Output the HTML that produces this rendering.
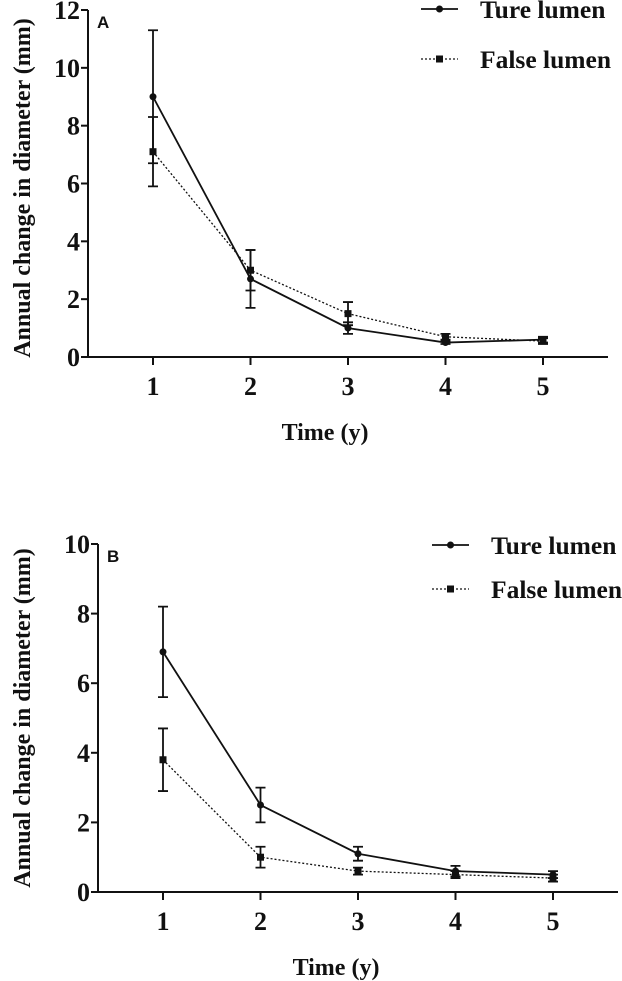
<!DOCTYPE html>
<html><head><meta charset="utf-8"><style>
html,body{margin:0;padding:0;background:#fff;}
svg{display:block;font-family:"Liberation Serif",serif;}
</style></head><body>
<svg id="svg" width="622" height="981" viewBox="0 0 622 981"></svg>
<script>
const categories=[1,2,3,4,5];
const aTrue=[9.0,2.7,1.0,0.5,0.6];
const aTrueErr=[2.3,1.0,0.2,0.05,0.1];
const aFalse=[7.1,3.0,1.5,0.7,0.55];
const aFalseErr=[1.2,0.7,0.4,0.1,0.1];
const bTrue=[6.9,2.5,1.1,0.6,0.5];
const bTrueErr=[1.3,0.5,0.2,0.15,0.1];
const bFalse=[3.8,1.0,0.6,0.5,0.4];
const bFalseErr=[0.9,0.3,0.1,0.1,0.1];
const aYTicks=[0,2,4,6,8,10,12];
const bYTicks=[0,2,4,6,8,10];
const legendLabels=["Ture lumen","False lumen"];

const NS="http://www.w3.org/2000/svg";
const svg=document.getElementById('svg');
function mk(tag,attrs,parent,text){const e=document.createElementNS(NS,tag);for(const k in attrs)e.setAttribute(k,attrs[k]);if(text!==undefined)e.textContent=text;(parent||svg).appendChild(e);return e;}

function panel(cfg){
  const g=mk('g',{});
  
  
  const x=v=>cfg.x1+(v-1)*cfg.dx;
  const y=v=>cfg.y0-(v/cfg.ymax)*(cfg.y0-cfg.ytop);
  const ax=mk('path',{d:`M${cfg.ax},${y(cfg.ymax)}V${cfg.y0}H${cfg.axEnd}`,stroke:'#111','stroke-width':2,fill:'none'},g);
  
  
  cfg.yticks.forEach(t=>{
    mk('line',{x1:cfg.ax-7,x2:cfg.ax,y1:y(t),y2:y(t),stroke:'#111','stroke-width':2},g);
    const tl=mk('text',{x:cfg.ax-8,y:y(t)+9,'text-anchor':'end','font-size':26,'font-weight':'bold',fill:'#111'},g,t);
    
    
  });
  categories.forEach(c=>{
    mk('line',{x1:x(c),x2:x(c),y1:cfg.y0,y2:cfg.y0+8,stroke:'#111','stroke-width':2},g);
    const tl=mk('text',{x:x(c),y:cfg.y0+38,'text-anchor':'middle','font-size':26,'font-weight':'bold',fill:'#111'},g,c);
    
    
  });
  const xt=mk('text',{x:cfg.xtX,y:cfg.xtY,'text-anchor':'middle','font-size':24,'font-weight':'bold',fill:'#111'},g,'Time (y)');
  
  
  const yt=mk('text',{transform:`translate(${cfg.ytX},${cfg.ytY}) rotate(-90)`,'text-anchor':'middle','font-size':24,'font-weight':'bold',fill:'#111'},g,'Annual change in diameter (mm)');
  
  
  const pl=mk('text',{x:cfg.ax+9,y:y(cfg.ymax)+18,'font-size':17,'font-weight':'bold','font-family':'Liberation Sans, sans-serif',fill:'#111'},g,cfg.label);
  
  
  const series=[[cfg.f,cfg.fe,'2,2','square','false-lumen'],[cfg.t,cfg.te,null,'circle','true-lumen']];
  series.forEach(([vals,errs,dash,shape,nm])=>{
    const pts=vals.map((v,i)=>x(categories[i])+','+y(v)).join(' ');
    const ln=mk('polyline',{points:pts,fill:'none',stroke:'#111','stroke-width':dash?1.3:1.8},g);
    if(dash)ln.setAttribute('stroke-dasharray',dash);
    
    
    vals.forEach((v,i)=>{
      const cx=x(categories[i]),e=errs[i];
      const eb=mk('path',{d:`M${cx},${y(v-e)}V${y(v+e)}M${cx-5},${y(v-e)}H${cx+5}M${cx-5},${y(v+e)}H${cx+5}`,stroke:'#111','stroke-width':1.8,fill:'none'},g);
      
      
      let m;
      if(shape==='circle')m=mk('circle',{cx:cx,cy:y(v),r:3.5,fill:'#111'},g);
      else m=mk('rect',{x:cx-3.5,y:y(v)-3.5,width:7,height:7,fill:'#111'},g);
      
      
    });
  });
  legendLabels.forEach((lab,i)=>{
    const ly=cfg.legY+i*cfg.legGap;
    const lg=mk('g',{},g);
    
    
    const l=mk('line',{x1:cfg.legX,x2:cfg.legX+37,y1:ly,y2:ly,stroke:'#111','stroke-width':i?1.3:1.8},lg);
    if(i)l.setAttribute('stroke-dasharray','2,2');
    if(i)mk('rect',{x:cfg.legX+15,y:ly-3.5,width:7,height:7,fill:'#111'},lg);
    else mk('circle',{cx:cfg.legX+18.5,cy:ly,r:3.5,fill:'#111'},lg);
    mk('text',{x:cfg.legX+59,y:ly+9,'font-size':25.5,'font-weight':'bold',fill:'#111'},lg,lab);
  });
}
panel({name:'panel-a',label:'A',t:aTrue,te:aTrueErr,f:aFalse,fe:aFalseErr,yticks:aYTicks,ymax:12,
  ax:88,axEnd:608,y0:357,ytop:10,x1:153,dx:97.5,xtX:325,xtY:440,ytX:30,ytY:188,legX:421,legY:9,legGap:50});
panel({name:'panel-b',label:'B',t:bTrue,te:bTrueErr,f:bFalse,fe:bFalseErr,yticks:bYTicks,ymax:10,
  ax:98,axEnd:618,y0:892,ytop:544,x1:163,dx:97.5,xtX:336,xtY:975,ytX:30,ytY:718,legX:432,legY:545,legGap:44});
</script>
</body></html>
